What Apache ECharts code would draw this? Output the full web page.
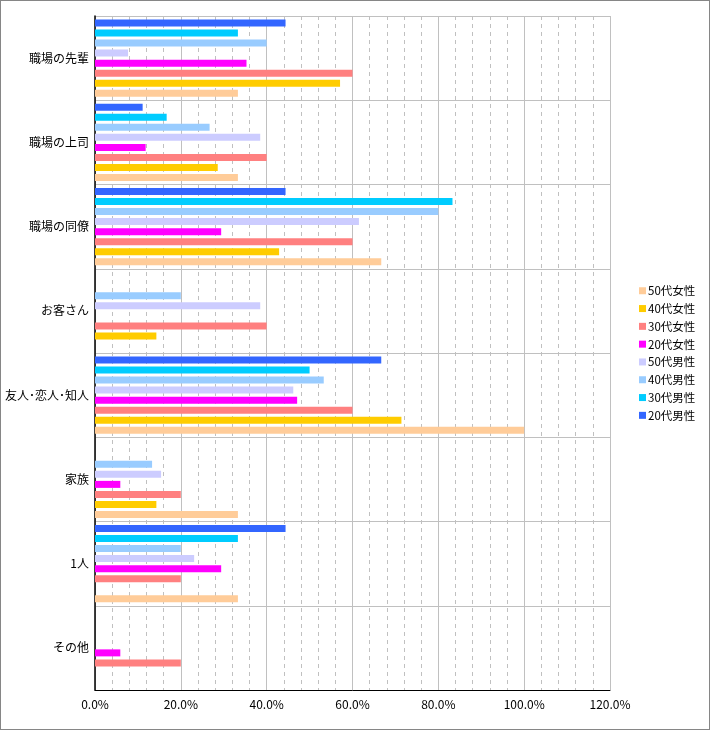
<!DOCTYPE html>
<html><head><meta charset="utf-8">
<script src="https://cdn.jsdelivr.net/npm/echarts@6/dist/echarts.min.js"></script>
<style>
html,body{margin:0;padding:0;background:#fff;}
#wrap{position:absolute;left:0;top:0;width:710px;height:730px;box-sizing:border-box;border:1px solid #868686;}
#chart{position:absolute;left:0;top:0;width:710px;height:730px;}
</style></head>
<body><div id="wrap"></div><div id="chart"></div>
<script>
const categories = ['職場の先輩','職場の上司','職場の同僚','お客さん','友人･恋人･知人','家族','1人','その他'];
const seriesNames = ['20代男性','30代男性','40代男性','50代男性','20代女性','30代女性','40代女性','50代女性'];
const legendOrder = ['50代女性','40代女性','30代女性','20代女性','50代男性','40代男性','30代男性','20代男性'];
const m20 = [44.4, 11.1, 44.4, 0, 66.7, 0, 44.4, 0];
const m30 = [33.3, 16.7, 83.3, 0, 50.0, 0, 33.3, 0];
const m40 = [40.0, 26.7, 80.0, 20.0, 53.3, 13.3, 20.0, 0];
const m50 = [7.7, 38.5, 61.5, 38.5, 46.2, 15.4, 23.1, 0];
const f20 = [35.3, 11.8, 29.4, 0, 47.1, 5.9, 29.4, 5.9];
const f30 = [60.0, 40.0, 60.0, 40.0, 60.0, 20.0, 20.0, 20.0];
const f40 = [57.1, 28.6, 42.9, 14.3, 71.4, 14.3, 0, 0];
const f50 = [33.3, 33.3, 66.7, 0, 100.0, 33.3, 33.3, 0];
const seriesValues = [m20, m30, m40, m50, f20, f30, f40, f50];
const colors = ['#3366FF','#00CCFF','#99CCFF','#CCCCFF','#FF00FF','#FF8080','#FFCC00','#FFCC99'];

const font = '"Noto Sans CJK JP", sans-serif';
const chart = echarts.init(document.getElementById('chart'), null, {renderer:'canvas'});
chart.setOption({
  animation:false,
  color: colors,
  textStyle:{fontFamily:font},
  grid:{left:95, right:100, top:16, bottom:40, containLabel:false},
  legend:{
    orient:'vertical', left:634, top:280,
    data: legendOrder,
    itemWidth:7, itemHeight:7, itemGap:6.3,
    icon:'rect',
    textStyle:{fontSize:11.5, color:'#000', fontFamily:font, padding:[0,0,0,-3]}
  },
  xAxis:{
    type:'value', min:0, max:120, interval:20,
    axisLine:{show:true, lineStyle:{color:'#000', width:1}},
    axisTick:{show:false},
    axisLabel:{formatter:v=>v.toFixed(1)+'%', color:'#000', fontSize:12, margin:8, fontFamily:font},
    splitLine:{show:true, lineStyle:{color:'#C0C0C0', width:1}},
    minorTick:{show:false, splitNumber:5},
    minorSplitLine:{show:true, lineStyle:{color:'#C0C0C0', type:[4,4], width:1}}
  },
  yAxis:{
    type:'category', data:categories, inverse:true,
    axisLine:{show:true, lineStyle:{color:'#000', width:1.5}},
    axisTick:{show:false},
    axisLabel:{color:'#000', fontSize:12, margin:6, fontFamily:font, padding:[0,0,7,0]},
    splitLine:{show:true, lineStyle:{color:'#C0C0C0', width:1}}
  },
  series: seriesNames.map((n,i)=>({
    name:n, type:'bar', data:seriesValues[i],
    barWidth:7, barGap:'43%',
    itemStyle:{color:colors[i]}
  }))
});
</script></body></html>
